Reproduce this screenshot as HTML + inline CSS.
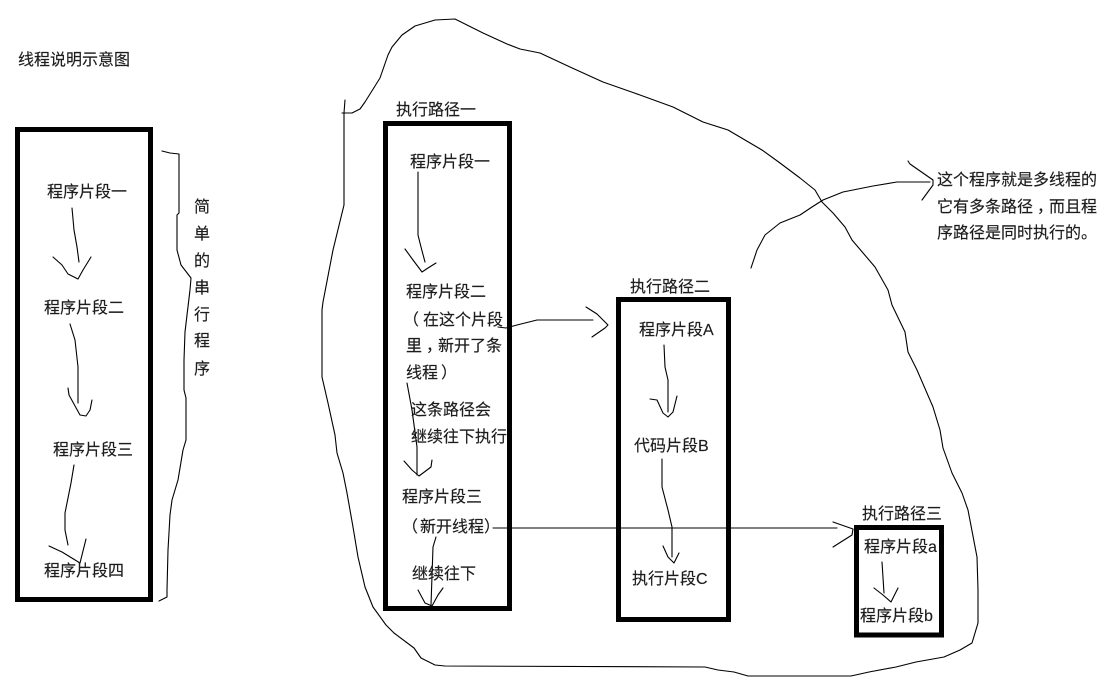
<!DOCTYPE html>
<html>
<head>
<meta charset="utf-8">
<style>
html,body{margin:0;padding:0;background:#fff;}
svg{display:block;}
text{font-family:"Liberation Sans","Noto Sans CJK SC",sans-serif;font-size:16px;fill:#1c1c1c;stroke:#1c1c1c;stroke-width:0.15;}
.l{fill:none;stroke:#000;stroke-width:1.1;stroke-linejoin:round;stroke-linecap:round;}
.b{fill:none;stroke:#000;stroke-width:5;}
</style>
</head>
<body>
<svg width="1099" height="695" viewBox="0 0 1099 695" xmlns="http://www.w3.org/2000/svg">
<rect width="1099" height="695" fill="#fff"/>

<!-- boxes -->
<rect class="b" x="17.5" y="129.5" width="133" height="470"/>
<rect class="b" x="385.5" y="123.5" width="124" height="485"/>
<rect class="b" x="618.5" y="299.5" width="110" height="320"/>
<rect class="b" x="856.5" y="527.5" width="85" height="107.5"/>

<!-- blob -->
<polyline class="l" points="345,100 344,113 344,205 333,250 323,302 322,310 322,377 328,403 335,435 337,453 343,473 347,493 353,527 358,557 365,587 373,607 386,625 394,633 414,648 421,658 435,665 445,666 705,667 718,670 734,672 748,676 851,676 869,672 896,667 916,662 944,657 960,650 972,643 978,623 978,590 977,557 968,510 962,493 952,473 943,448 940,430 933,407 917,370 908,352 905,332 892,305 888,290 875,267 852,240 845,227 833,213 822,202 815,190 800,178 780,163 762,150 728,130 703,122 673,107 640,95 603,82 570,67 540,53 520,49 507,44 483,33 455,19 435,20 415,26 402,35 392,47 388,55 380,78 365,102 360,109 352,113 342,113"/>

<!-- bracket -->
<polyline class="l" points="162,151 170,153 179,154 179,213 177,215 177,250 181,265 191,278 190,290 187,315 185,332 184,360 184,390 186,398 186,440 183,450 178,480 172,500 170,515 168,550 167,590 167,597 159,601"/>

<!-- left arrows -->
<polyline class="l" points="72,208 74,230 77,247 79,262"/>
<polyline class="l" points="53,257 62,265 68,274 78,279 83,270 91,257"/>
<polyline class="l" points="70,324 75,340 77,358 78,367 78,403"/>
<polyline class="l" points="68,388 69,395 80,415 86,416 90,410 92,400"/>
<polyline class="l" points="74,465 71,483 65,513 65,530 68,545"/>
<polyline class="l" points="49,546 62,552 80,563 86,539"/>

<!-- column 2 arrows -->
<polyline class="l" points="418,172 418,235 421,247 425,262"/>
<polyline class="l" points="405,249 413,260 422,272 428,268 436,263"/>
<polyline class="l" points="498,327 506,328 517,325 537,320 593,320"/>
<polyline class="l" points="586,307 597,314 608,325 605,328 592,337"/>
<polyline class="l" points="407,383 412,410 417,447 417,475"/>
<polyline class="l" points="404,461 412,470 419,476 431,467 432,460"/>
<polyline class="l" points="493,528 837,528"/>
<polyline class="l" points="833,522 853,529 852,535 833,547"/>
<polyline class="l" points="436,537 433,547 431,605"/>
<polyline class="l" points="418,590 425,603 432,606 438,595 443,588"/>

<!-- column 3 arrows -->
<polyline class="l" points="664,345 665,367 668,380 668,412"/>
<polyline class="l" points="650,399 657,400 663,413 668,417 673,412 677,396"/>
<polyline class="l" points="662,459 662,487 668,510 672,527 672,557"/>
<polyline class="l" points="663,546 668,557 674,563 679,553"/>

<!-- column 4 arrows -->
<polyline class="l" points="882,562 884,593"/>
<polyline class="l" points="874,588 883,595 891,602 898,588"/>

<!-- right curve -->
<polyline class="l" points="751,268 757,250 765,235 780,223 800,215 812,207 823,200 843,192 873,186 897,182 930,182"/>
<polyline class="l" points="908,161 910,164 933,180 933,185 922,200"/>

<!-- text -->
<text x="18" y="65">线程说明示意图</text>

<text x="47" y="197">程序片段一</text>
<text x="44" y="313">程序片段二</text>
<text x="53" y="455">程序片段三</text>
<text x="44" y="576">程序片段四</text>

<text x="194" y="212">简</text>
<text x="194" y="239">单</text>
<text x="194" y="266">的</text>
<text x="194" y="293">串</text>
<text x="194" y="320">行</text>
<text x="194" y="346">程</text>
<text x="194" y="374">序</text>

<text x="396" y="115">执行路径一</text>
<text x="410" y="167">程序片段一</text>
<text x="406" y="297">程序片段二</text>
<text x="403" y="325">（</text>
<text x="423" y="325">在这个片段</text>
<text x="406" y="351">里<tspan dx="4">，</tspan><tspan dx="-4">新开了条</tspan></text>
<text x="406" y="378">线程</text>
<text x="441" y="378">）</text>
<text x="411" y="415">这条路径会</text>
<text x="411" y="442">继续往下执行</text>
<text x="402" y="502">程序片段三</text>
<text x="402" y="532">（</text>
<text x="420" y="532">新开线程</text>
<text x="484" y="532">）</text>
<text x="412" y="579">继续往下</text>

<text x="630" y="292">执行路径二</text>
<text x="639" y="335">程序片段A</text>
<text x="634" y="451">代码片段B</text>
<text x="632" y="584">执行片段C</text>

<text x="862" y="519">执行路径三</text>
<text x="864" y="552">程序片段a</text>
<text x="860" y="621">程序片段b</text>

<text x="937" y="185">这个程序就是多线程的</text>
<text x="937" y="212">它有多条路径<tspan dx="4">，</tspan><tspan dx="-4">而且程</tspan></text>
<text x="937" y="238">序路径是同时执行的。</text>
</svg>
</body>
</html>
